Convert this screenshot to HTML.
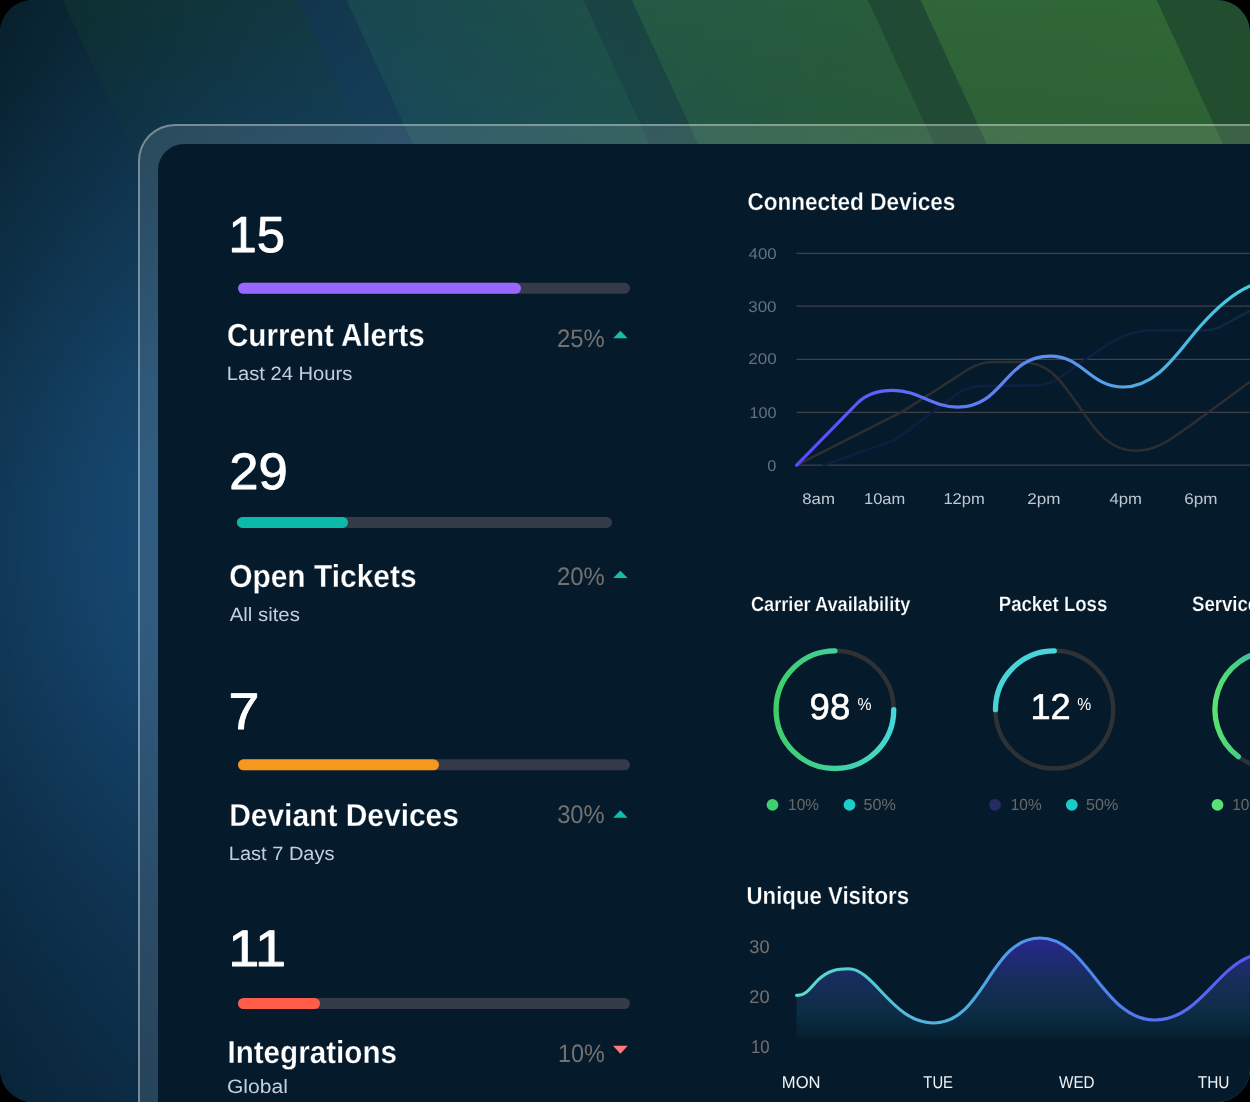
<!DOCTYPE html>
<html><head><meta charset="utf-8"><title>Dashboard</title>
<style>
html,body{margin:0;padding:0;background:#000;}
body{width:1250px;height:1102px;overflow:hidden;position:relative;font-family:"Liberation Sans",sans-serif;}
#wrap{position:absolute;left:0;top:0;width:1250px;height:1102px;border-radius:33px;overflow:hidden;background:#0c3550;}
#bg,#charts,#ui{position:absolute;left:0;top:0;}
#ui{will-change:transform;}
#frame{position:absolute;left:138px;top:124px;width:1300px;height:1200px;border-radius:37px;background:rgba(255,255,255,0.115);border:2px solid rgba(255,255,255,0.36);box-sizing:border-box;}
#panel{position:absolute;left:158px;top:144px;width:1300px;height:1200px;border-radius:26px;background:#051b2c;}
#ui text{font-family:"Liberation Sans",sans-serif;text-rendering:geometricPrecision;white-space:pre;}
</style></head><body>
<div id="wrap">
<svg id="bg" width="1250" height="1102" viewBox="0 0 1250 1102">
<defs>
<linearGradient id="bgh" gradientUnits="userSpaceOnUse" x1="0" y1="0" x2="1250" y2="0">
<stop offset="0" stop-color="#07202c"/>
<stop offset="0.26" stop-color="#11344a"/>
<stop offset="0.49" stop-color="#1a4442"/>
<stop offset="0.72" stop-color="#204a34"/>
<stop offset="1" stop-color="#224e2e"/>
</linearGradient>
<radialGradient id="glow" gradientUnits="userSpaceOnUse" cx="330" cy="560" r="640">
<stop offset="0" stop-color="#174972" stop-opacity="1"/>
<stop offset="0.3" stop-color="#174972" stop-opacity="1"/>
<stop offset="0.52" stop-color="#174972" stop-opacity="0.6"/>
<stop offset="0.65" stop-color="#174972" stop-opacity="0.4"/>
<stop offset="0.9" stop-color="#174972" stop-opacity="0.08"/>
<stop offset="1" stop-color="#174972" stop-opacity="0"/>
</radialGradient>
<linearGradient id="fadev" gradientUnits="userSpaceOnUse" x1="0" y1="0" x2="0" y2="420">
<stop offset="0" stop-color="#fff" stop-opacity="1"/>
<stop offset="0.3" stop-color="#fff" stop-opacity="0.8"/>
<stop offset="1" stop-color="#fff" stop-opacity="0"/>
</linearGradient>
<linearGradient id="blt" gradientUnits="userSpaceOnUse" x1="0" y1="0" x2="0" y2="1102"><stop offset="0.35" stop-color="#0b2c54" stop-opacity="0"/><stop offset="1" stop-color="#0b2c54" stop-opacity="0.32"/></linearGradient>
<linearGradient id="b1g" gradientUnits="userSpaceOnUse" x1="0" y1="0" x2="0" y2="240"><stop offset="0" stop-color="#123e2e" stop-opacity="0.40"/><stop offset="0.5" stop-color="#123e2e" stop-opacity="0.14"/><stop offset="1" stop-color="#123e2e" stop-opacity="0"/></linearGradient>
<mask id="mfade"><rect x="0" y="0" width="1250" height="420" fill="url(#fadev)"/></mask>
</defs>
<rect width="1250" height="1102" fill="url(#bgh)"/>
<rect width="1250" height="1102" fill="url(#glow)"/>
<rect width="200" height="1102" fill="url(#blt)"/>
<path d="M62.7 0 L298.8 0 L409.2 240 L173.1 240Z" fill="url(#b1g)"/>
<g mask="url(#mfade)"><path d="M346.6 0 L583.3 0 L776.5 420 L539.8 420Z" fill="#34865c" fill-opacity="0.2"/><path d="M631.8 0 L867.8 0 L1061.0 420 L825.0 420Z" fill="#44984e" fill-opacity="0.25"/><path d="M920.6 0 L1156.6 0 L1349.8 420 L1113.8 420Z" fill="#4e9a44" fill-opacity="0.34"/></g>
</svg>
<div id="frame"></div>
<div id="panel"></div>
<svg id="charts" width="1250" height="1102" viewBox="0 0 1250 1102">
<defs>
<linearGradient id="lg1" gradientUnits="userSpaceOnUse" x1="796" y1="0" x2="1250" y2="0">
<stop offset="0" stop-color="#5a46ff"/>
<stop offset="0.25" stop-color="#5f6cf8"/>
<stop offset="0.55" stop-color="#5b8ff0"/>
<stop offset="0.8" stop-color="#4fb0e6"/>
<stop offset="1" stop-color="#46cfe0"/>
</linearGradient>
<linearGradient id="nv" gradientUnits="userSpaceOnUse" x1="796" y1="0" x2="1250" y2="0"><stop offset="0" stop-color="#0e1d40"/><stop offset="0.7" stop-color="#0e2044"/><stop offset="1" stop-color="#0d2c42"/></linearGradient>
<linearGradient id="gg1" gradientUnits="userSpaceOnUse" x1="773" y1="0" x2="897" y2="0">
<stop offset="0" stop-color="#3ecf68"/>
<stop offset="0.5" stop-color="#41d09c"/>
<stop offset="1" stop-color="#45d8dc"/>
</linearGradient>
<linearGradient id="gg2" gradientUnits="userSpaceOnUse" x1="992" y1="0" x2="1056" y2="0">
<stop offset="0" stop-color="#48d4d6"/>
<stop offset="1" stop-color="#45d8da"/>
</linearGradient>
<linearGradient id="gg3" gradientUnits="userSpaceOnUse" x1="1212" y1="0" x2="1275" y2="0">
<stop offset="0" stop-color="#5ae46c"/>
<stop offset="0.3" stop-color="#4dd47e"/>
<stop offset="0.62" stop-color="#40bf98"/>
<stop offset="1" stop-color="#3cb8a0"/>
</linearGradient>
<linearGradient id="al" gradientUnits="userSpaceOnUse" x1="796" y1="0" x2="1250" y2="0">
<stop offset="0" stop-color="#57e0c8"/>
<stop offset="0.3" stop-color="#4fb4e0"/>
<stop offset="0.6" stop-color="#4f8cf0"/>
<stop offset="1" stop-color="#5b55f2"/>
</linearGradient>
<linearGradient id="af" gradientUnits="userSpaceOnUse" x1="0" y1="938" x2="0" y2="1037.5">
<stop offset="0" stop-color="#2b2894" stop-opacity="0.95"/>
<stop offset="0.42" stop-color="#193063" stop-opacity="0.86"/>
<stop offset="0.75" stop-color="#0e3049" stop-opacity="0.85"/>
<stop offset="1" stop-color="#0a2a40" stop-opacity="0.32"/>
</linearGradient>
</defs>
<line x1="796.5" y1="253.4" x2="1250" y2="253.4" stroke="#413f49" stroke-width="1.2"/><line x1="796.5" y1="306.2" x2="1250" y2="306.2" stroke="#413f49" stroke-width="1.2"/><line x1="796.5" y1="359.3" x2="1250" y2="359.3" stroke="#413f49" stroke-width="1.2"/><line x1="796.5" y1="412.3" x2="1250" y2="412.3" stroke="#413f49" stroke-width="1.2"/><line x1="796.5" y1="465.2" x2="1250" y2="465.2" stroke="#413f49" stroke-width="1.2"/>
<path d="M823.8 465.2 L895.2 439.8 L958 393.3 C966 387.5 974 386 984 386 L1036 385.5 C1052 385.5 1062 376 1075.3 366.3 L1110 343 C1125 334 1138 330.4 1152 330.4 L1204 330.4 C1216 330.4 1222 326 1232 320.5 L1262 304.5" fill="none" stroke="url(#nv)" stroke-width="2.4" stroke-linecap="round" stroke-linejoin="round"/>
<path d="M796.7 465.2 L902.9 411.4 L968 369.5 C976 364.5 983 361.9 993 361.9 L1022 361.9 C1050 361.9 1062 383 1075.3 401.1 C1092 424 1105 450.8 1136.3 450.8 C1158 450.8 1172 438 1190 425.8 L1262 373" fill="none" stroke="#2e2e31" stroke-width="2.5" stroke-linecap="round" stroke-linejoin="round"/>
<path d="M796.7 465.2 L857.5 403 C865 395.3 878 390.3 893.3 390.3 C919 390.3 932 407.2 957.6 407.2 C1004 407.2 1004 356.1 1050.3 356.1 C1083 356.1 1090 387 1123.2 387 C1158 387 1178 351.4 1200 326.5 C1218 306.2 1245 281 1272 281" fill="none" stroke="url(#lg1)" stroke-width="3.2" stroke-linecap="round" stroke-linejoin="round"/>

<circle cx="834.9" cy="709.65" r="58.85" fill="none" stroke="#2f3235" stroke-width="4.4"/>
<path d="M893.75 709.65 A58.85 58.85 0 1 1 834.90 650.80" fill="none" stroke="url(#gg1)" stroke-width="5.3" stroke-linecap="round"/>
<circle cx="1054.3" cy="709.65" r="58.85" fill="none" stroke="#2f3235" stroke-width="4.4"/>
<path d="M995.45 709.65 A58.85 58.85 0 0 1 1054.30 650.80" fill="none" stroke="url(#gg2)" stroke-width="5.3" stroke-linecap="round"/>
<circle cx="1273.8" cy="709.65" r="58.85" fill="none" stroke="#2f3235" stroke-width="4.4"/>
<path d="M1238.38 756.65 A58.85 58.85 0 0 1 1273.80 650.80" fill="none" stroke="url(#gg3)" stroke-width="5.3" stroke-linecap="round"/>

<path d="M796.6 995.3 C806 996 810 988 818 980 C828 970 838 968.8 848.6 968.8 C874 968.8 893 1023 933.5 1023 C984 1023 990 938 1040 938 C1088 938 1103 1020 1154.5 1020 C1198 1020 1215 970 1250 956.5 L1262 952 L1262 1037.5 L796.6 1037.5 Z" fill="url(#af)"/>
<path d="M796.6 995.3 C806 996 810 988 818 980 C828 970 838 968.8 848.6 968.8 C874 968.8 893 1023 933.5 1023 C984 1023 990 938 1040 938 C1088 938 1103 1020 1154.5 1020 C1198 1020 1215 970 1250 956.5 L1262 952" fill="none" stroke="url(#al)" stroke-width="3.1" stroke-linecap="round" stroke-linejoin="round"/>
</svg>
<svg id="ui" width="1250" height="1102" viewBox="0 0 1250 1102">
<rect x="238" y="282.8" width="392" height="11.0" rx="5.5" fill="#343a47"/>
<rect x="238" y="282.8" width="283" height="11.0" rx="5.5" fill="#9966ff"/>
<rect x="237" y="516.9" width="375" height="11.0" rx="5.5" fill="#343a47"/>
<rect x="237" y="516.9" width="111" height="11.0" rx="5.5" fill="#0cbaa9"/>
<rect x="238" y="759.3" width="392" height="11.0" rx="5.5" fill="#343a47"/>
<rect x="238" y="759.3" width="201" height="11.0" rx="5.5" fill="#f5981d"/>
<rect x="238" y="998" width="392" height="11" rx="5.5" fill="#343a47"/>
<rect x="238" y="998" width="82" height="11" rx="5.5" fill="#ff5c49"/>
<path d="M613.2 338.2 L620.4 330.8 L627.6 338.2Z" fill="#10bfac"/>
<path d="M613.2 578.1 L620.4 570.7 L627.6 578.1Z" fill="#10bfac"/>
<path d="M613.2 817.6999999999999 L620.4 810.3 L627.6 817.6999999999999Z" fill="#10bfac"/>
<path d="M613 1045.8 L627.8 1045.8 L620.4 1053.8Z" fill="#ff7b7b"/>
<circle cx="772.5" cy="804.8" r="5.9" fill="#3ecf6e"/>
<circle cx="849.5" cy="804.8" r="5.9" fill="#1cccc8"/>
<circle cx="995" cy="804.8" r="5.9" fill="#262c62"/>
<circle cx="1071.8" cy="804.8" r="5.9" fill="#1cccc8"/>
<circle cx="1217.5" cy="804.8" r="5.9" fill="#58e276"/>
<text x="228.51" y="252" font-size="50.73" font-weight="400" fill="#ffffff" stroke="#ffffff" stroke-width="0.9" stroke-linejoin="round" textLength="56.46" lengthAdjust="spacingAndGlyphs">15</text>
<text x="229.30" y="489" font-size="51.31" font-weight="400" fill="#ffffff" stroke="#ffffff" stroke-width="0.9" stroke-linejoin="round" textLength="58.45" lengthAdjust="spacingAndGlyphs">29</text>
<text x="228.54" y="729" font-size="51.45" font-weight="400" fill="#ffffff" stroke="#ffffff" stroke-width="0.9" stroke-linejoin="round" textLength="30.89" lengthAdjust="spacingAndGlyphs">7</text>
<text x="228.16" y="966" font-size="51.31" font-weight="400" fill="#ffffff" stroke="#ffffff" stroke-width="0.9" stroke-linejoin="round" textLength="57.98" lengthAdjust="spacingAndGlyphs">11</text>
<text x="227.01" y="346" font-size="31.98" font-weight="700" fill="#ffffff" stroke="#051b2c" stroke-width="0.3" textLength="197.81" lengthAdjust="spacingAndGlyphs">Current Alerts</text>
<text x="229.19" y="587" font-size="31.83" font-weight="700" fill="#ffffff" stroke="#051b2c" stroke-width="0.3" textLength="187.34" lengthAdjust="spacingAndGlyphs">Open Tickets</text>
<text x="229.18" y="826" font-size="31.69" font-weight="700" fill="#ffffff" stroke="#051b2c" stroke-width="0.3" textLength="229.76" lengthAdjust="spacingAndGlyphs">Deviant Devices</text>
<text x="227.41" y="1063" font-size="31.83" font-weight="700" fill="#ffffff" stroke="#051b2c" stroke-width="0.3" textLength="169.56" lengthAdjust="spacingAndGlyphs">Integrations</text>
<text x="226.80" y="380" font-size="19.33" font-weight="400" fill="#c4cfde" textLength="125.48" lengthAdjust="spacingAndGlyphs">Last 24 Hours</text>
<text x="229.76" y="621" font-size="19.19" font-weight="400" fill="#c4cfde" textLength="70.05" lengthAdjust="spacingAndGlyphs">All sites</text>
<text x="228.81" y="860" font-size="19.33" font-weight="400" fill="#c4cfde" textLength="105.69" lengthAdjust="spacingAndGlyphs">Last 7 Days</text>
<text x="226.97" y="1093" font-size="19.33" font-weight="400" fill="#c4cfde" textLength="60.88" lengthAdjust="spacingAndGlyphs">Global</text>
<text x="557.09" y="347" font-size="25.28" font-weight="400" fill="#74716f" textLength="47.75" lengthAdjust="spacingAndGlyphs">25%</text>
<text x="557.09" y="585" font-size="25.28" font-weight="400" fill="#74716f" textLength="47.75" lengthAdjust="spacingAndGlyphs">20%</text>
<text x="557.13" y="823" font-size="25.56" font-weight="400" fill="#74716f" textLength="47.52" lengthAdjust="spacingAndGlyphs">30%</text>
<text x="557.93" y="1062" font-size="25.28" font-weight="400" fill="#74716f" textLength="46.89" lengthAdjust="spacingAndGlyphs">10%</text>
<text x="747.39" y="210" font-size="24.44" font-weight="700" fill="#ffffff" stroke="#051b2c" stroke-width="0.3" textLength="208.03" lengthAdjust="spacingAndGlyphs">Connected Devices</text>
<text x="746.58" y="904" font-size="24.71" font-weight="700" fill="#ffffff" stroke="#051b2c" stroke-width="0.3" textLength="162.45" lengthAdjust="spacingAndGlyphs">Unique Visitors</text>
<text x="750.88" y="611" font-size="20.44" font-weight="700" fill="#ffffff" stroke="#051b2c" stroke-width="0.25" textLength="159.55" lengthAdjust="spacingAndGlyphs">Carrier Availability</text>
<text x="998.76" y="611" font-size="20.86" font-weight="700" fill="#ffffff" stroke="#051b2c" stroke-width="0.25" textLength="108.55" lengthAdjust="spacingAndGlyphs">Packet Loss</text>
<text x="1192.01" y="611" font-size="20.86" font-weight="700" fill="#ffffff" stroke="#051b2c" stroke-width="0.25" textLength="66.19" lengthAdjust="spacingAndGlyphs">Service</text>
<text x="748.55" y="259" font-size="15.59" font-weight="400" fill="#65717e" textLength="28.04" lengthAdjust="spacingAndGlyphs">400</text>
<text x="748.23" y="312" font-size="15.59" font-weight="400" fill="#65717e" textLength="28.37" lengthAdjust="spacingAndGlyphs">300</text>
<text x="748.22" y="364" font-size="15.59" font-weight="400" fill="#65717e" textLength="28.38" lengthAdjust="spacingAndGlyphs">200</text>
<text x="749.42" y="418" font-size="15.59" font-weight="400" fill="#65717e" textLength="27.15" lengthAdjust="spacingAndGlyphs">100</text>
<text x="767.39" y="471" font-size="15.59" font-weight="400" fill="#65717e" textLength="9.04" lengthAdjust="spacingAndGlyphs">0</text>
<text x="802.28" y="504" font-size="15.59" font-weight="400" fill="#bec8d4" textLength="32.73" lengthAdjust="spacingAndGlyphs">8am</text>
<text x="864.01" y="504" font-size="15.59" font-weight="400" fill="#bec8d4" textLength="41.22" lengthAdjust="spacingAndGlyphs">10am</text>
<text x="943.40" y="504" font-size="15.59" font-weight="400" fill="#bec8d4" textLength="41.43" lengthAdjust="spacingAndGlyphs">12pm</text>
<text x="1027.21" y="504" font-size="15.59" font-weight="400" fill="#bec8d4" textLength="33.21" lengthAdjust="spacingAndGlyphs">2pm</text>
<text x="1109.56" y="504" font-size="15.59" font-weight="400" fill="#bec8d4" textLength="32.44" lengthAdjust="spacingAndGlyphs">4pm</text>
<text x="1184.19" y="504" font-size="15.59" font-weight="400" fill="#bec8d4" textLength="33.23" lengthAdjust="spacingAndGlyphs">6pm</text>
<text x="809.64" y="719" font-size="36.05" font-weight="400" fill="#ffffff" stroke="#ffffff" stroke-width="0.6" stroke-linejoin="round" textLength="40.60" lengthAdjust="spacingAndGlyphs">98</text>
<text x="1030.42" y="719" font-size="36.05" font-weight="400" fill="#ffffff" stroke="#ffffff" stroke-width="0.6" stroke-linejoin="round" textLength="40.27" lengthAdjust="spacingAndGlyphs">12</text>
<text x="857.55" y="710" font-size="17.42" font-weight="400" fill="#ffffff" textLength="13.98" lengthAdjust="spacingAndGlyphs">%</text>
<text x="1077.35" y="710" font-size="17.42" font-weight="400" fill="#ffffff" textLength="13.98" lengthAdjust="spacingAndGlyphs">%</text>
<text x="788.10" y="810" font-size="16.01" font-weight="400" fill="#6b6866" textLength="30.79" lengthAdjust="spacingAndGlyphs">10%</text>
<text x="863.56" y="810" font-size="16.01" font-weight="400" fill="#6b6866" textLength="32.35" lengthAdjust="spacingAndGlyphs">50%</text>
<text x="1010.80" y="810" font-size="16.01" font-weight="400" fill="#6b6866" textLength="30.79" lengthAdjust="spacingAndGlyphs">10%</text>
<text x="1086.06" y="810" font-size="16.01" font-weight="400" fill="#6b6866" textLength="32.24" lengthAdjust="spacingAndGlyphs">50%</text>
<text x="1232.20" y="810" font-size="16.01" font-weight="400" fill="#6b6866" textLength="30.79" lengthAdjust="spacingAndGlyphs">10%</text>
<text x="749.34" y="953" font-size="18.4" font-weight="400" fill="#77706c" textLength="20.26" lengthAdjust="spacingAndGlyphs">30</text>
<text x="749.31" y="1003" font-size="18.4" font-weight="400" fill="#77706c" textLength="20.28" lengthAdjust="spacingAndGlyphs">20</text>
<text x="750.93" y="1053" font-size="18.4" font-weight="400" fill="#77706c" textLength="18.63" lengthAdjust="spacingAndGlyphs">10</text>
<text x="781.85" y="1088" font-size="17.15" font-weight="400" fill="#f1f4f7" textLength="38.66" lengthAdjust="spacingAndGlyphs">MON</text>
<text x="923.36" y="1088" font-size="17.15" font-weight="400" fill="#f1f4f7" textLength="29.63" lengthAdjust="spacingAndGlyphs">TUE</text>
<text x="1059.05" y="1088" font-size="17.15" font-weight="400" fill="#f1f4f7" textLength="35.44" lengthAdjust="spacingAndGlyphs">WED</text>
<text x="1197.74" y="1088" font-size="17.15" font-weight="400" fill="#f1f4f7" textLength="31.77" lengthAdjust="spacingAndGlyphs">THU</text>
</svg>
</div>
</body></html>
